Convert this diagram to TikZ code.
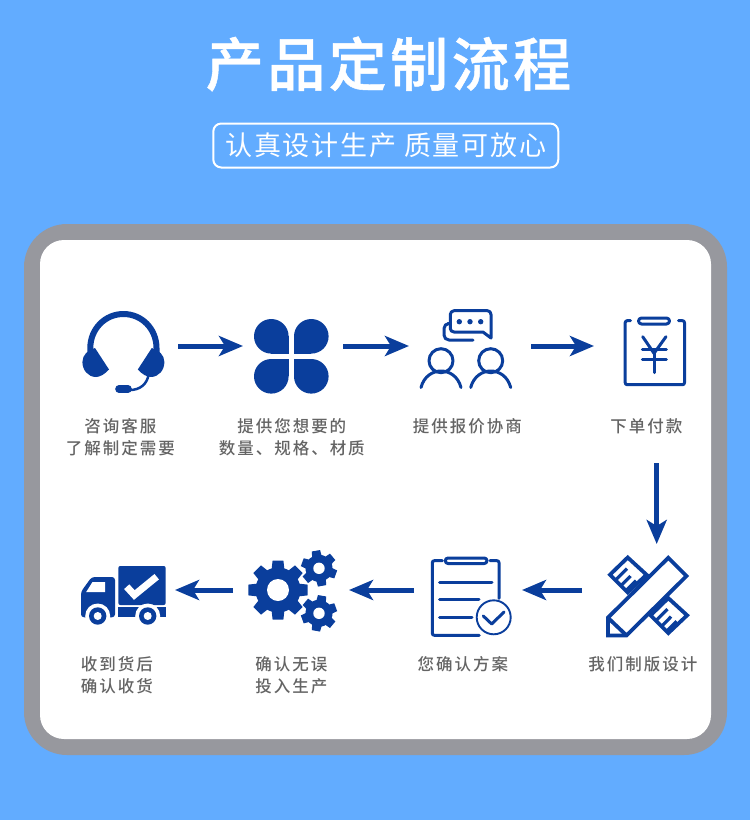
\documentclass[tikz,border=0pt]{standalone}
\usepackage{fontspec}
\usepackage{tikz}
\usetikzlibrary{arrows.meta,calc}
\newfontfamily\cjktitle[LetterSpace=6,FakeBold=0.8]{Noto Sans CJK SC Medium}
\newfontfamily\cjksub[LetterSpace=6.5]{Noto Sans CJK SC}
\newfontfamily\cjklabel[LetterSpace=12]{Noto Sans CJK SC Medium}
\definecolor{pfSky}{RGB}{98,172,255}
\definecolor{pfBlue}{RGB}{10,62,156}
\definecolor{pfGray}{RGB}{151,152,158}
\definecolor{pfText}{RGB}{100,100,100}
\newcommand{\gearicon}[7]{%
  \fill[pfBlue] (#1) circle[radius=#3];
  \pgfmathsetmacro{\gearstep}{360/#5}
  \foreach \k in {1,...,#5} {
    \pgfmathsetmacro{\gearang}{#6+\k*\gearstep}
    \pgfmathsetmacro{\gearbase}{asin(0.62*#2/#3*#7)}
    \pgfmathsetmacro{\geartop}{asin(#7*0.5)}
    \fill[pfBlue] ($(#1)+(\gearang-\gearbase:#3-1)$) -- ($(#1)+(\gearang-\geartop:#2)$)
      -- ($(#1)+(\gearang+\geartop:#2)$) -- ($(#1)+(\gearang+\gearbase:#3-1)$) -- cycle;
  }
  \fill[white] (#1) circle[radius=#4];
}
\begin{document}
\begin{tikzpicture}[x=1pt, y=-1pt, >=Stealth,
    iconbox/.style={inner sep=0pt, outer sep=0pt, minimum height=10pt},
    flow/.style={-{Stealth[length=24pt,width=20pt,inset=6pt]}, line width=5pt, pfBlue},
    outline/.style={draw=pfBlue, line width=3pt, line cap=round, line join=round},
    steplabel/.style={text=pfText, align=center, inner sep=0pt, font=\fontsize{16.5}{22}\selectfont\cjklabel}]
  \useasboundingbox (0,0) rectangle (750,820);
  \fill[pfSky] (0,0) rectangle (750,820);
  \fill[pfGray, rounded corners=43pt] (24,224) rectangle (727,755);
  \fill[white, rounded corners=24pt] (40,240) rectangle (711,739);

  \node[text=white, inner sep=0pt, font=\fontsize{58}{62}\selectfont\cjktitle] (title) at (388.5,64) {产品定制流程};
  \node[draw=white, line width=2pt, rounded corners=8pt, inner sep=0pt, minimum width=345pt, minimum height=44pt,
    text=white, font=\fontsize{27}{30}\selectfont\cjksub] (motto) at (385.8,145.5) {认真设计生产 质量可放心};

  \node[iconbox, minimum width=109pt] (headset) at (123.5,346) {};
  \node[iconbox, minimum width=100pt] (clover) at (293,346) {};
  \node[iconbox, minimum width=122pt] (chat) at (470,346) {};
  \node[iconbox, minimum width=125.4pt, minimum height=234pt] (invoice) at (656.7,346) {};
  \node[iconbox, minimum width=149.4pt, minimum height=92pt] (ruler) at (656.7,590) {};
  \node[iconbox, minimum width=108pt] (clipboard) at (468,590) {};
  \node[iconbox, minimum width=116pt] (gears) at (291,590) {};
  \node[iconbox, minimum width=104pt] (truck) at (123,590) {};

  \draw[flow] (headset.east) -- (clover.west);
  \draw[flow] (clover.east) -- (chat.west);
  \draw[flow] (chat.east) -- (invoice.west);
  \draw[flow] (invoice.south) -- (ruler.north);
  \draw[flow] (ruler.west) -- (clipboard.east);
  \draw[flow] (clipboard.west) -- (gears.east);
  \draw[flow] (gears.west) -- (truck.east);

  \node[steplabel] (label1) at (120.3,437) {咨询客服\\了解制定需要};
  \node[steplabel] (label2) at (291.8,437) {提供您想要的\\数量、规格、材质};
  \node[steplabel] (label3) at (467.3,426) {提供报价协商};
  \node[steplabel] (label4) at (646.3,426) {下单付款};
  \node[steplabel] (label5) at (642.8,664) {我们制版设计};
  \node[steplabel] (label6) at (462.8,664) {您确认方案};
  \node[steplabel] (label7) at (291.3,675) {确认无误\\投入生产};
  \node[steplabel] (label8) at (116.8,675) {收到货后\\确认收货};

  % headset
  \draw[pfBlue, line width=6pt] (90.3,356) -- (90.3,348) .. controls (90.3,329) and (105,314) .. (123.4,314)
    .. controls (142,314) and (156.5,329) .. (156.5,348) -- (156.5,356);
  \foreach \s in {1,-1} {
    \begin{scope}[shift={(123.4,0)}, xscale=\s]
      \fill[pfBlue] (-28.4,348) -- (-14.4,369.5) .. controls (-18.4,374) and (-23.4,377) .. (-27.4,377)
        .. controls (-35.4,377) and (-41,370) .. (-41,362) .. controls (-41,355) and (-35.4,350) .. (-28.4,348) -- cycle;
    \end{scope}
  }
  \draw[pfBlue, line width=7.7pt, line cap=round] (119,389) -- (128,389);
  \draw[pfBlue, line width=2.5pt] (130,390) .. controls (140,390) and (147,384) .. (148.5,375);

  % clover
  \foreach \sx in {1,-1} {
    \foreach \sy in {1,-1} {
      \begin{scope}[shift={(291.3,356.3)}, xscale=\sx, yscale=\sy]
        \fill[pfBlue] (20,20) circle[radius=17.3];
        \fill[pfBlue] (2.7,2.7) rectangle (20,20);
      \end{scope}
    }
  }

  % chat
  \draw[outline] (491,338) -- (483,332) -- (454,332) .. controls (452,332) and (450.3,330.5) .. (450.3,328.5)
    -- (450.3,314.5) .. controls (450.3,312.5) and (452,310.7) .. (454,310.7) -- (487.5,310.7)
    .. controls (489.5,310.7) and (491,312.5) .. (491,314.5) -- cycle;
  \draw[outline, rounded corners=5pt] (447.5,323.5) -- (444,323.5) -- (444,340) -- (473,340);
  \foreach \x in {459.3,470,480.7} {
    \fill[pfBlue] (\x,321.7) circle[radius=2.7];
  }
  \foreach \x in {441,490.7} {
    \draw[outline] (\x,360.7) circle[radius=12];
    \draw[outline] (\x-20,387.5) .. controls (\x-17,376) and (\x-8,371) .. (\x,371)
      .. controls (\x+8,371) and (\x+17,376) .. (\x+20,387.5);
  }

  % invoice
  \draw[outline, rounded corners=2pt] (630.5,320.7) -- (625.2,320.7) -- (625.2,384.7) -- (684.5,384.7) -- (684.5,320.7) -- (678.5,320.7);
  \draw[outline, rounded corners=3pt] (638.5,318) rectangle (669.5,324);
  \draw[outline] (642.7,336.7) -- (654,353.3) -- (666,336.7);
  \draw[outline] (654,353.3) -- (654,372.7);
  \draw[outline] (642.3,349) -- (666.3,349);
  \draw[outline] (642.3,359.7) -- (666.3,359.7);

  % ruler and pencil
  \foreach \d in {0,40.6} {
    \begin{scope}[shift={(\d,\d)}]
      \draw[pfBlue, line width=3.8pt, line join=miter] (627.7,557.5) -- (610,574.7) -- (627.7,592.5) -- (646.5,574.7) -- cycle;
      \draw[pfBlue, line width=3.2pt] (615.5,580) -- (627,568.5);
      \draw[pfBlue, line width=3.2pt] (621.2,585.5) -- (630.5,576);
      \draw[pfBlue, line width=3.2pt] (626.2,590.5) -- (636,580.7);
    \end{scope}
  }
  \draw[pfBlue, fill=white, line width=3.8pt, line join=miter] (607.9,617.7) -- (668.3,557.8) -- (686.5,576) -- (626.5,635.4) -- (607.9,635.4) -- cycle;
  \draw[pfBlue, line width=3.8pt] (607.9,617.7) -- (626.5,635.4);

  % clipboard
  \draw[outline, rounded corners=2pt] (442.3,560.7) -- (432.3,560.7) -- (432.3,635.3) -- (479.3,635.3);
  \draw[outline, rounded corners=2pt] (490,560.7) -- (499,560.7) -- (499,598.3);
  \draw[outline, rounded corners=2.7pt] (445.3,558) rectangle (487,563.5);
  \draw[outline] (439.5,582.3) -- (492,582.3);
  \draw[outline] (439.5,599.7) -- (479,599.7);
  \draw[outline] (439.5,617.3) -- (472,617.3);
  \draw[pfBlue, line width=1.9pt] (493.7,617.3) circle[radius=17];
  \draw[outline] (483.3,616) -- (491.7,624) -- (504,612);

  % gears
  \gearicon{278,590}{30}{22.5}{11}{8}{0}{0.36}
  \gearicon{319,568.3}{18.3}{13.5}{5.7}{6}{20}{0.46}
  \gearicon{319,613.3}{18.3}{13.5}{5.7}{6}{40}{0.46}

  % truck
  \fill[pfBlue, rounded corners=2pt] (118.3,605) -- (118.3,566) -- (165.7,566) -- (165.7,605) -- cycle;
  \fill[pfBlue] (118.3,606.7) rectangle (165.7,617.3);
  \fill[pfBlue, rounded corners=3pt] (81,617.3) -- (81,591.7) -- (91.7,577) -- (115,577) -- (115,617.3) -- cycle;
  \fill[white] (86.2,592) -- (92.5,582) -- (105,582) -- (105,592) -- cycle;
  \draw[white, line width=7pt] (126.7,586.7) -- (134.3,595) -- (156.7,576.7);
  \foreach \x in {97.7,147.7} {
    \fill[white] (\x,616) circle[radius=12.5];
    \fill[pfBlue] (\x,616) circle[radius=8.7];
    \fill[white] (\x,616) circle[radius=4];
  }
\end{tikzpicture}
\end{document}
